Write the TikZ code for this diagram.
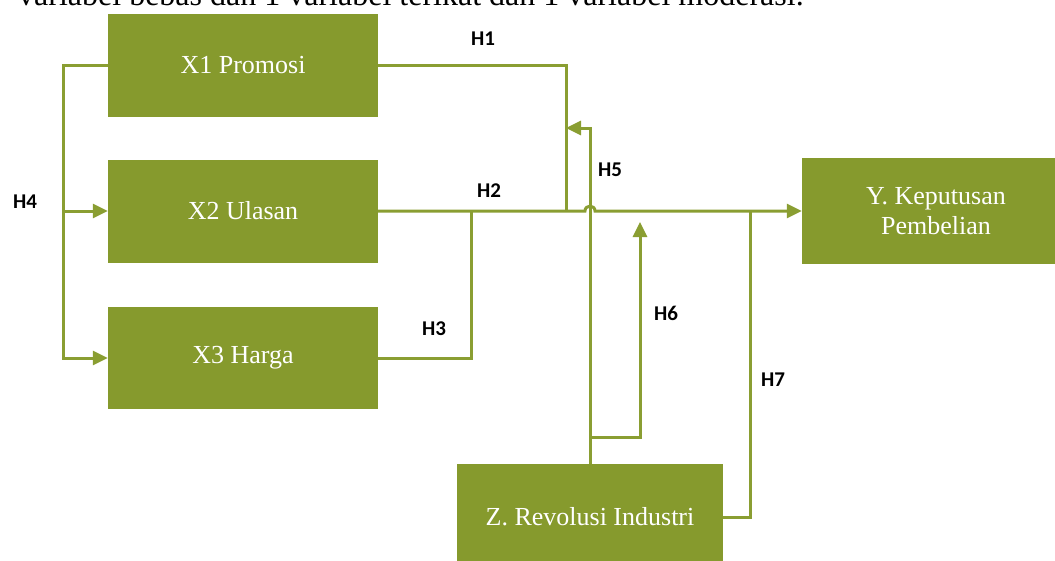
\documentclass[tikz,border=0pt]{standalone}
\usepackage{fontspec}
\setmainfont{Liberation Serif}
\newfontfamily\labelfont{Carlito}
\usetikzlibrary{arrows.meta}
\definecolor{olive}{RGB}{134,154,45}
\definecolor{oliveline}{RGB}{138,158,50}
\tikzset{
  varbox/.style={fill=olive, draw=none, text=white, minimum width=270pt, minimum height=103pt,
    inner sep=0pt, align=center, font=\fontsize{26}{32}\selectfont},
  conn/.style={draw=oliveline, line width=3pt},
  arr/.style={conn, -{Triangle[length=15pt,width=14pt]}},
  hlabel/.style={font=\labelfont\bfseries\fontsize{21}{24}\selectfont, inner sep=0pt}
}
\begin{document}
\begin{tikzpicture}[x=1pt,y=-1pt]
\useasboundingbox (0,0) rectangle (1055,560);
\begin{scope}
\clip (0,0) rectangle (1055,560);
% cut-off caption line at the top
\node[anchor=base west, inner sep=0pt, font=\fontsize{32}{36}\selectfont] (cap) at (18,5)
  {variabel bebas dan 1 variabel terikat dan 1 variabel moderasi.};
% boxes
\node[varbox] (X1) at (243,65.5) {X1 Promosi};
\node[varbox] (X2) at (243,211) {X2 Ulasan};
\node[varbox, minimum height=102pt] (X3) at (243,358) {X3 Harga};
\node[varbox, minimum width=268pt, minimum height=106pt] (Y) at (936,211) {Y. Keputusan\\[-2pt]Pembelian};
\node[varbox, minimum width=266pt, minimum height=106pt] (Z) at (590,517) {Z. Revolusi Industri};
% junction coordinates
\coordinate (m1) at (566,211);
\coordinate (m3) at (471,211);
\coordinate (m7) at (750,211);
\coordinate (h5) at (566,128);
\coordinate (z6) at (590,437);
\coordinate (h6) at (640,222);
\coordinate (l1) at (63,65.5);
\coordinate (l2) at (63,211);
\coordinate (hopL) at (585,211);
\coordinate (hopR) at (595,211);
% connectors
\draw[conn] (X1.east) -| (m1);
\draw[arr] (X2.east) -- (hopL) .. controls (585,204.5) and (595,204.5) .. (hopR) -- (Y.west);
\draw[conn] (X3.east) -| (m3);
\draw[arr] (X1.west) -- (l1) |- (X3.west);
\draw[arr] (l2) -- (X2.west);
\draw[arr] (Z.north) |- (h5);
\draw[arr] (z6) -| (h6);
\draw[conn] (Z.east) -| (m7);
% labels
\node[hlabel] (H1) at (483,39) {H1};
\node[hlabel] (H2) at (489,191) {H2};
\node[hlabel] (H3) at (434,328.5) {H3};
\node[hlabel] (H4) at (25,202) {H4};
\node[hlabel] (H5) at (610,170) {H5};
\node[hlabel] (H6) at (666,313) {H6};
\node[hlabel] (H7) at (773,380) {H7};
\end{scope}
\end{tikzpicture}
\end{document}
